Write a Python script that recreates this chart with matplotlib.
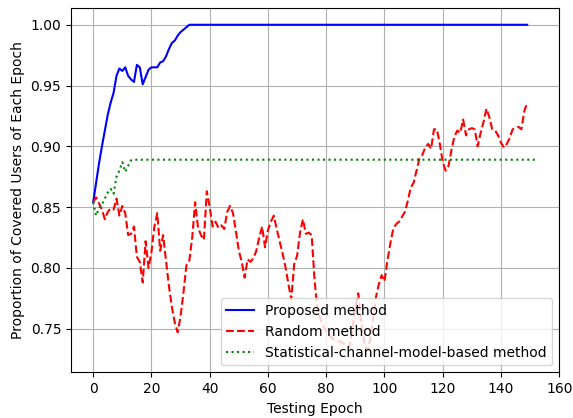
import numpy as np
import matplotlib
matplotlib.use("Agg")
import matplotlib.pyplot as plt

# proposed method: climbs to full coverage, then flat
proposed_head = [0.854, 0.870, 0.886, 0.900, 0.913, 0.926, 0.936, 0.944, 0.958, 0.964,
                 0.962, 0.965, 0.958, 0.955, 0.953, 0.967, 0.965, 0.951, 0.957, 0.963,
                 0.965, 0.965, 0.965, 0.969, 0.970, 0.974, 0.980, 0.985, 0.987, 0.991,
                 0.994, 0.996, 0.998, 1.000]
proposed = proposed_head + [1.000] * (150 - len(proposed_head))

random_vals = [0.854, 0.858, 0.853, 0.848, 0.840, 0.846, 0.849, 0.848, 0.857, 0.843,
               0.851, 0.845, 0.827, 0.828, 0.834, 0.809, 0.805, 0.788, 0.822, 0.800,
               0.813, 0.834, 0.845, 0.814, 0.827, 0.806, 0.785, 0.768, 0.755, 0.747,
               0.760, 0.780, 0.802, 0.806, 0.825, 0.854, 0.833, 0.827, 0.823, 0.863,
               0.850, 0.834, 0.838, 0.833, 0.835, 0.832, 0.846, 0.851, 0.845, 0.830,
               0.814, 0.805, 0.792, 0.807, 0.805, 0.808, 0.814, 0.825, 0.834, 0.817,
               0.831, 0.838, 0.843, 0.832, 0.822, 0.812, 0.801, 0.787, 0.774, 0.803,
               0.810, 0.829, 0.840, 0.828, 0.829, 0.827, 0.790, 0.765, 0.758, 0.752,
               0.748, 0.745, 0.742, 0.741, 0.740, 0.739, 0.738, 0.736, 0.735, 0.750,
               0.768, 0.779, 0.755, 0.740, 0.732, 0.740, 0.757, 0.775, 0.786, 0.794,
               0.789, 0.806, 0.820, 0.832, 0.836, 0.838, 0.842, 0.846, 0.855, 0.866,
               0.870, 0.880, 0.890, 0.893, 0.899, 0.902, 0.898, 0.914, 0.914, 0.902,
               0.887, 0.880, 0.884, 0.897, 0.908, 0.913, 0.911, 0.922, 0.909, 0.914,
               0.915, 0.914, 0.900, 0.911, 0.920, 0.931, 0.924, 0.914, 0.913, 0.909,
               0.903, 0.899, 0.902, 0.907, 0.914, 0.915, 0.916, 0.914, 0.929, 0.936]

# statistical-channel-model-based: quick rise then constant
stat_head = [0.854, 0.843, 0.849, 0.852, 0.857, 0.862, 0.865, 0.861, 0.875, 0.880,
             0.887, 0.879, 0.884, 0.8885, 0.889]
stat = stat_head + [0.889] * (153 - len(stat_head))

epochs = np.arange(len(proposed))
epochs_stat = np.arange(len(stat))

fig = plt.figure(figsize=(5.73, 4.18), dpi=100)
ax = fig.add_axes([0.124, 0.109, 0.852, 0.871])

ax.plot(epochs, proposed, color='blue', linestyle='-', label='Proposed method')
ax.plot(epochs, random_vals, color='red', linestyle='--', label='Random method')
ax.plot(epochs_stat, stat, color='green', linestyle=':', label='Statistical-channel-model-based method')

ax.set_xlim(-7.6, 160)
ax.set_ylim(0.714, 1.0135)
ax.set_xticks(np.arange(0, 161, 20))
ax.set_yticks([0.75, 0.80, 0.85, 0.90, 0.95, 1.00])
ax.grid(True)
ax.set_xlabel('Testing Epoch')
ax.set_ylabel('Proportion of Covered Users of Each Epoch')
ax.legend(loc='lower right')

fig.savefig('out.png', dpi=100)
